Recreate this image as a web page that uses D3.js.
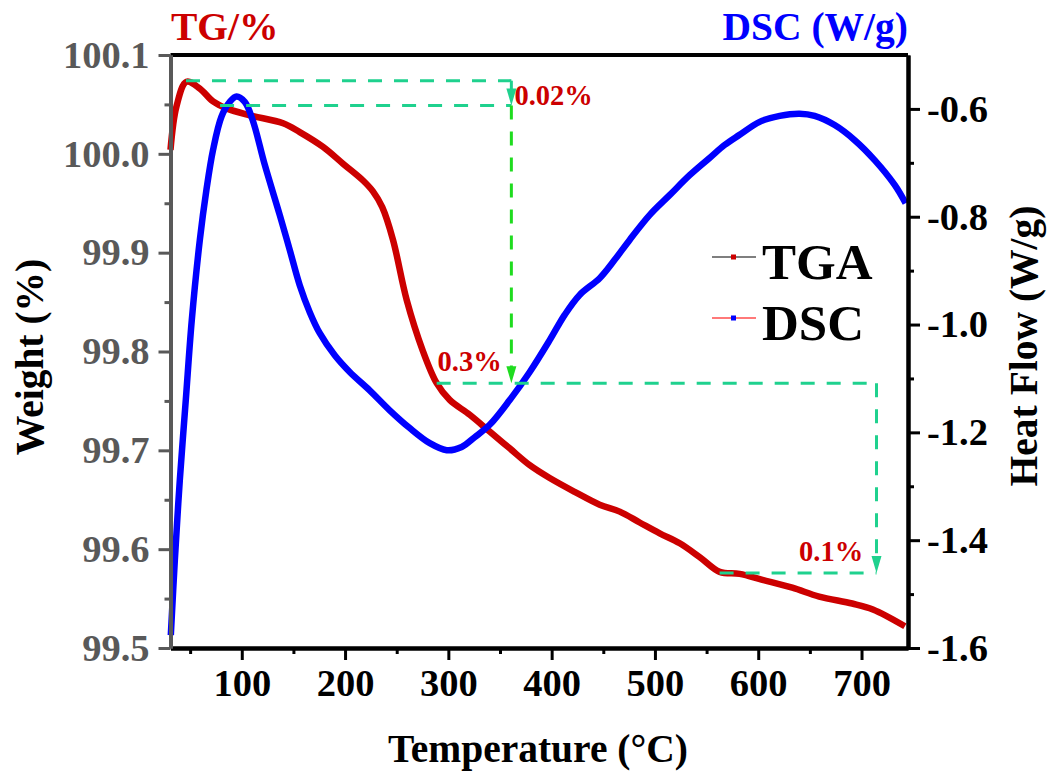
<!DOCTYPE html>
<html>
<head>
<meta charset="utf-8">
<script src="https://cdn.jsdelivr.net/npm/d3@7"></script>
<style>
  html, body { margin: 0; padding: 0; background: #fff; }
  svg text { font-family: "Liberation Serif", "Times New Roman", serif; font-weight: bold; }
</style>
</head>
<body>
<svg id="chart" width="1048" height="776"></svg>
<script>
// Temperature (°C) and weight (%) of the TGA trace
const tgaTemp = [31, 36.8, 46.5, 59.4, 72.2, 85.2, 107.7, 140, 156.1, 178.7, 198, 217.4, 227, 236, 246.4,
  259.7, 275.2, 288.7, 301.3, 320.7, 340, 359.4, 378.8, 398.1, 422.3, 446.5, 465.9, 485.2, 504.6,
  524, 543.3, 562.7, 582, 604, 633, 659, 691, 711, 742];
const tgaWeight = [100.004, 100.048, 100.073, 100.066, 100.053, 100.046, 100.039, 100.031, 100.022,
  100.007, 99.990, 99.973, 99.962, 99.946, 99.913, 99.852, 99.801, 99.768, 99.751, 99.736, 99.719, 99.702,
  99.685, 99.672, 99.658, 99.645, 99.638, 99.627, 99.616, 99.606, 99.592, 99.577, 99.575, 99.569,
  99.561, 99.552, 99.545, 99.539, 99.522];

// Temperature (°C) and heat flow (W/g) of the DSC trace
const dscTemp = [31.3, 35.2, 40, 45.8, 51.6, 59.4, 65.8, 72.2, 80.4, 88.4, 94.9, 102.9, 110.6, 122.3,
  136.8, 146.5, 156.1, 165.8, 175.5, 190, 204.5, 223.8, 243.2, 262.6, 282, 298.4, 312.9,
  325.5, 340, 359.4, 378.8, 398.1, 412.6, 427.1, 446.5, 461, 475.5, 494.8, 514.2, 533.6, 552.9,
  567.4, 582, 601.4, 620.8, 640.1, 654.6, 674, 693.4, 712.7, 732.1, 742.7];
const dscFlow = [-1.576, -1.437, -1.289, -1.140, -0.992, -0.843, -0.750, -0.676, -0.614, -0.587,
  -0.577, -0.587, -0.621, -0.704, -0.797, -0.862, -0.927, -0.977, -1.016, -1.057, -1.088, -1.122,
  -1.159, -1.192, -1.220, -1.233, -1.227, -1.209, -1.186, -1.140, -1.088, -1.029, -0.982,
  -0.945, -0.914, -0.880, -0.843, -0.797, -0.760, -0.723, -0.691, -0.667, -0.648, -0.624, -0.613,
  -0.609, -0.613, -0.630, -0.658, -0.695, -0.741, -0.775];

// Tick values
const xTicks = [100, 200, 300, 400, 500, 600, 700];
const xMinor = [50, 150, 250, 350, 450, 550, 650];
const leftTicks = [99.5, 99.6, 99.7, 99.8, 99.9, 100.0, 100.1];
const leftMinor = [99.55, 99.65, 99.75, 99.85, 99.95, 100.05];
const rightTicks = [-1.6, -1.4, -1.2, -1.0, -0.8, -0.6];
const rightMinor = [-1.5, -1.3, -1.1, -0.9, -0.7];

// Weight-loss steps: plateau levels (%) and the temperatures bounding them
const stepLevels = [100.074, 100.049, 99.768, 99.576];
const stepStart = [46, 79, 288.7, 562.6];
const stepEnd = [361, 361, 714.5, 714.5];
const stepLabels = ["0.02%", "0.3%", "0.1%"];

const svg = d3.select("#chart");
const L = 170.5, R = 908, T = 55, B = 648;

const x = d3.scaleLinear().domain([31, 745]).range([L, R]);
const yL = d3.scaleLinear().domain([99.5, 100.1]).range([B, T]);
const yR = d3.scaleLinear().domain([-1.6, -0.5]).range([B, T]);

const tgaData = tgaTemp.map((t, i) => [t, tgaWeight[i]]);
const dscData = dscTemp.map((t, i) => [t, dscFlow[i]]);

// Curves
svg.append("path")
  .datum(tgaData)
  .attr("fill", "none")
  .attr("stroke", "#cc0000")
  .attr("stroke-width", 6.5)
  .attr("stroke-linejoin", "round")
  .attr("d", d3.line().x(d => x(d[0])).y(d => yL(d[1])).curve(d3.curveCatmullRom.alpha(0.5)));

svg.append("path")
  .datum(dscData)
  .attr("fill", "none")
  .attr("stroke", "#0000ff")
  .attr("stroke-width", 6.5)
  .attr("stroke-linejoin", "round")
  .attr("d", d3.line().x(d => x(d[0])).y(d => yR(d[1])).curve(d3.curveCatmullRom.alpha(0.5)));

// Step annotations
const mint = "#1fd18e", bright = "#1fdc1f";
const dash = "14,12";
function hLine(i) {
  svg.append("line")
    .attr("x1", x(stepStart[i])).attr("x2", x(stepEnd[i]))
    .attr("y1", yL(stepLevels[i])).attr("y2", yL(stepLevels[i]))
    .attr("stroke", mint).attr("stroke-width", 3).attr("stroke-dasharray", dash);
}
function arrow(t, from, to, color) {
  const xp = x(t), y1 = yL(from), y2 = yL(to);
  svg.append("line")
    .attr("x1", xp).attr("x2", xp).attr("y1", y1).attr("y2", y2 - 14)
    .attr("stroke", color).attr("stroke-width", 3).attr("stroke-dasharray", dash);
  svg.append("path")
    .attr("d", `M${xp - 5},${y2 - 17}L${xp + 5},${y2 - 17}L${xp},${y2}Z`)
    .attr("fill", color);
}
[0, 1, 2, 3].forEach(hLine);
arrow(361, stepLevels[0], stepLevels[1], mint);
arrow(361, stepLevels[1], stepLevels[2], bright);
arrow(714.5, stepLevels[2], stepLevels[3], mint);

const labelStyle = s => s.attr("fill", "#cc0000").attr("font-size", 28.5);
labelStyle(svg.append("text").attr("x", x(364)).attr("y", yL(100.074) + 24).text(stepLabels[0]));
labelStyle(svg.append("text").attr("x", x(289.5)).attr("y", yL(99.768) - 12).text(stepLabels[1]));
labelStyle(svg.append("text").attr("x", x(639.5)).attr("y", yL(99.576) - 12).text(stepLabels[2]));

// Frame: top edge
svg.append("line").attr("x1", L).attr("x2", R).attr("y1", T).attr("y2", T)
  .attr("stroke", "#000").attr("stroke-width", 4);

const tickFont = 38.5, titleFont = 39.5;

// Bottom axis
const gx = svg.append("g").attr("transform", `translate(0,${B})`);
gx.call(d3.axisBottom(x).tickValues(xTicks).tickSize(12).tickSizeOuter(0).tickPadding(9).tickFormat(d3.format("d")));
const gxm = svg.append("g").attr("transform", `translate(0,${B})`);
gxm.call(d3.axisBottom(x).tickValues(xMinor).tickSize(6).tickSizeOuter(0).tickFormat(""));
[gx, gxm].forEach(g => {
  g.select(".domain").attr("stroke", "#000").attr("stroke-width", 4);
  g.selectAll(".tick line").attr("stroke", "#000").attr("stroke-width", 3);
});
gx.selectAll(".tick text").attr("fill", "#000").attr("font-size", tickFont)
  .attr("font-family", "Liberation Serif, serif").attr("font-weight", "bold");

// Right axis
const gr = svg.append("g").attr("transform", `translate(${R},0)`);
gr.call(d3.axisRight(yR).tickValues(rightTicks).tickSize(12).tickSizeOuter(0).tickPadding(7).tickFormat(d3.format(".1f")));
const grm = svg.append("g").attr("transform", `translate(${R},0)`);
grm.call(d3.axisRight(yR).tickValues(rightMinor).tickSize(6).tickSizeOuter(0).tickFormat(""));
[gr, grm].forEach(g => {
  g.select(".domain").attr("stroke", "#000").attr("stroke-width", 4);
  g.selectAll(".tick line").attr("stroke", "#000").attr("stroke-width", 3);
});
gr.selectAll(".tick text").attr("fill", "#000").attr("font-size", tickFont)
  .attr("font-family", "Liberation Serif, serif").attr("font-weight", "bold")
  .text(d => d3.format(".1f")(d).replace("−", "-"));

// Left axis (grey)
const grey = "#595959";
const gl = svg.append("g").attr("transform", `translate(${L},0)`);
gl.call(d3.axisLeft(yL).tickValues(leftTicks).tickSize(12).tickSizeOuter(0).tickPadding(9).tickFormat(d3.format(".1f")));
const glm = svg.append("g").attr("transform", `translate(${L},0)`);
glm.call(d3.axisLeft(yL).tickValues(leftMinor).tickSize(6).tickSizeOuter(0).tickFormat(""));
[gl, glm].forEach(g => {
  g.select(".domain").attr("stroke", grey).attr("stroke-width", 4);
  g.selectAll(".tick line").attr("stroke", grey).attr("stroke-width", 3);
});
gl.selectAll(".tick text").attr("fill", grey).attr("font-size", tickFont)
  .attr("font-family", "Liberation Serif, serif").attr("font-weight", "bold");

// Axis titles
svg.append("text").attr("x", 538).attr("y", 762).attr("text-anchor", "middle")
  .attr("font-size", titleFont).attr("fill", "#000").text("Temperature (°C)");
svg.append("text").attr("transform", "translate(43,357) rotate(-90)").attr("text-anchor", "middle")
  .attr("font-size", titleFont).attr("fill", "#000").text("Weight (%)");
svg.append("text").attr("transform", "translate(1037,346) rotate(-90)").attr("text-anchor", "middle")
  .attr("font-size", titleFont).attr("fill", "#000").text("Heat Flow (W/g)");

// Top titles
svg.append("text").attr("x", 171).attr("y", 40).attr("font-size", titleFont).attr("fill", "#cc0000").text("TG/%");
svg.append("text").attr("x", 908).attr("y", 40).attr("text-anchor", "end")
  .attr("font-size", titleFont).attr("fill", "#0000ff").text("DSC (W/g)");

// Legend
const legend = [
  { name: "TGA", line: "#555555", marker: "#cc0000", y: 257 },
  { name: "DSC", line: "#ff4d4d", marker: "#0000ff", y: 318 }
];
legend.forEach(d => {
  svg.append("line").attr("x1", 712).attr("x2", 756).attr("y1", d.y).attr("y2", d.y)
    .attr("stroke", d.line).attr("stroke-width", 1.6);
  svg.append("rect").attr("x", 731).attr("y", d.y - 2.5).attr("width", 5).attr("height", 5).attr("fill", d.marker);
  svg.append("text").attr("x", 762).attr("y", d.y + 6).attr("dy", "0.32em")
    .attr("font-size", 51).attr("fill", "#000").text(d.name);
});
</script>
</body>
</html>
